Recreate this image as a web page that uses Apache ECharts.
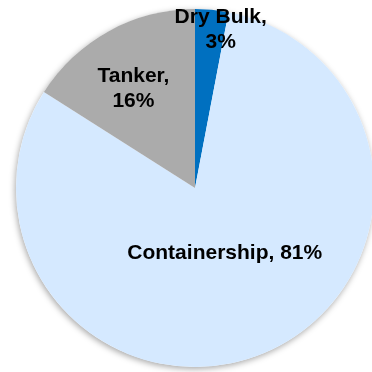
<!DOCTYPE html>
<html><head><meta charset="utf-8">
<script src="https://cdn.jsdelivr.net/npm/echarts@6/dist/echarts.min.js"></script>
<style>html,body{margin:0;padding:0;background:#fff}#c{width:372px;height:372px}</style>
</head><body><div id="c"></div>
<script>
const categories = ['Dry Bulk', 'Containership', 'Tanker'];
const values = [3, 81, 16];
const colors = ['#0070C0', '#D5E9FF', '#ABABAB'];
const labelOffsets = [[17, -66], [-7, -20], [-17, -18]];
const labelFormats = ['{b},\n{c}%', '{b}, {c}%', '{b},\n{c}%'];

const chart = echarts.init(document.getElementById('c'));
chart.setOption({
  animation: false,
  series: [
    {
      type: 'pie', silent: true, center: [195, 188], radius: 179,
      label: {show: false}, labelLine: {show: false},
      itemStyle: {color: '#fff', shadowBlur: 6, shadowColor: 'rgba(0,0,0,0.35)', shadowOffsetX: -1, shadowOffsetY: 2},
      data: [{value: 1, name: ''}], z: 1
    },
    {
      type: 'pie', center: [195, 188], radius: 179, startAngle: 90, clockwise: true,
      z: 2,
      labelLine: {show: false},
      data: categories.map((n, i) => ({
        name: n, value: values[i],
        itemStyle: {color: colors[i], borderWidth: 0},
        label: {
          show: true, position: 'inside', formatter: labelFormats[i],
          offset: labelOffsets[i],
          fontFamily: 'Liberation Sans, Arial, sans-serif', fontWeight: 'bold',
          fontSize: 21, lineHeight: 25, color: '#000', align: 'center'
        }
      }))
    }
  ]
});
</script></body></html>
